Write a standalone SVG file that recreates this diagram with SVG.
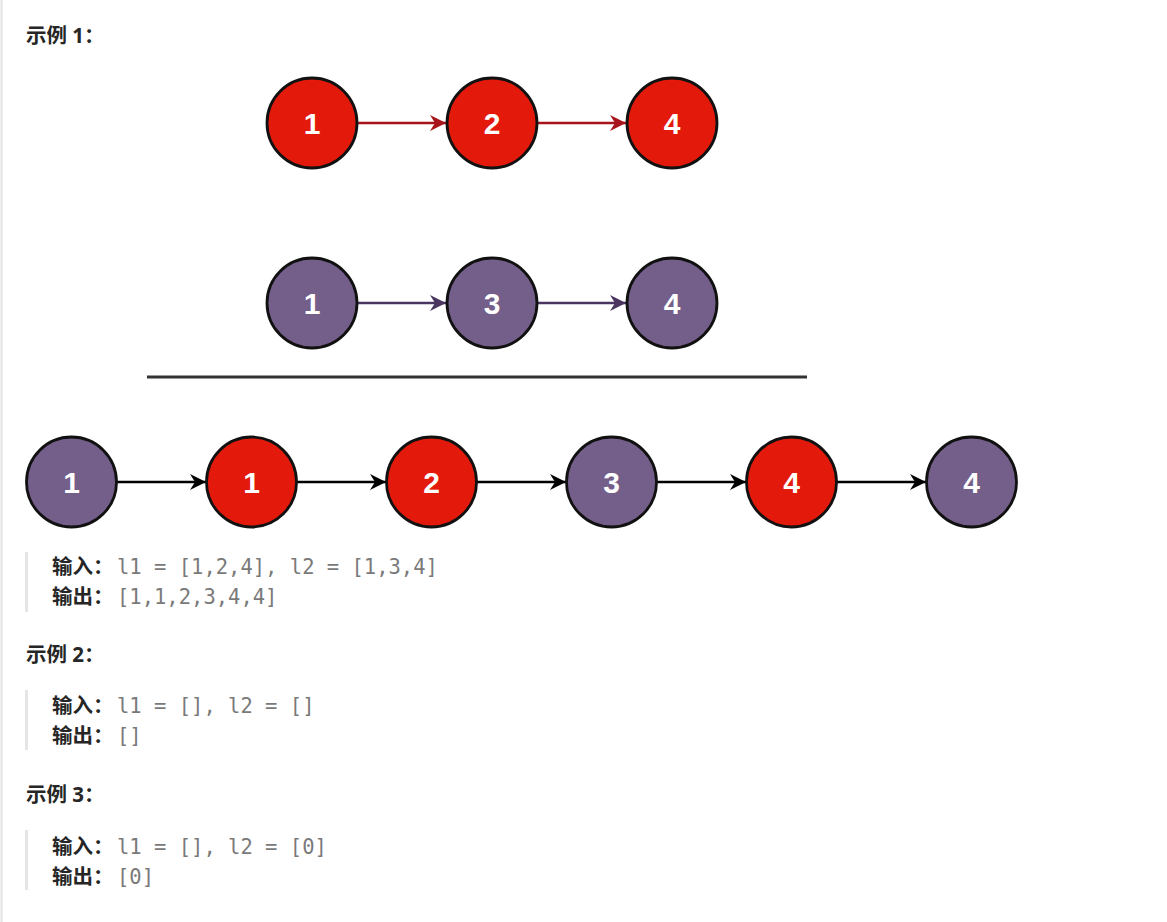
<svg xmlns="http://www.w3.org/2000/svg" width="1167" height="922" viewBox="0 0 1167 922">
<style>
.red{fill:#e31a0b;stroke:#111;stroke-width:2.8}
.pur{fill:#745e8a;stroke:#111;stroke-width:2.8}
.num{fill:#fff;font-family:"Liberation Sans",Arial,sans-serif;font-weight:bold;font-size:30px;text-anchor:middle}
.h{fill:#262626;font-family:"Noto Sans","Noto Sans CJK SC",sans-serif;font-weight:bold;font-size:20.5px}
.lab{fill:#262626;font-family:"Noto Sans","Noto Sans CJK SC",sans-serif;font-weight:bold;font-size:20.5px}
.code{fill:#7a7a7a;font-family:"DejaVu Sans Mono","Liberation Mono",monospace;font-size:20.5px}
.bar{fill:#e5e5e5}
.cr{stroke:#a8141b;stroke-width:2.3;fill:none}
.cp{stroke:#4a3560;stroke-width:2.3;fill:none}
.cb{stroke:#000;stroke-width:2.3;fill:none}
</style>
<defs>
<marker id="ar" markerUnits="userSpaceOnUse" markerWidth="18" markerHeight="16" refX="16" refY="8" orient="auto"><path d="M0,0 L16,8 L0,16 L5,8 Z" fill="#a8141b"/></marker>
<marker id="ap" markerUnits="userSpaceOnUse" markerWidth="18" markerHeight="16" refX="16" refY="8" orient="auto"><path d="M0,0 L16,8 L0,16 L5,8 Z" fill="#4a3560"/></marker>
<marker id="ab" markerUnits="userSpaceOnUse" markerWidth="18" markerHeight="16" refX="16" refY="8" orient="auto"><path d="M0,0 L16,8 L0,16 L5,8 Z" fill="#000"/></marker>
</defs>
<rect width="1167" height="922" fill="#fff"/>
<line x1="1.5" y1="0" x2="1.5" y2="922" stroke="#e3e3e3" stroke-width="2"/>

<g id="heading1"><text class="h" x="26" y="43">示例 1：</text></g>

<g id="connectors">
<line class="cr" x1="358" y1="123" x2="446" y2="123" marker-end="url(#ar)"/>
<line class="cr" x1="538" y1="123" x2="626" y2="123" marker-end="url(#ar)"/>
<line class="cp" x1="358" y1="303" x2="446" y2="303" marker-end="url(#ap)"/>
<line class="cp" x1="538" y1="303" x2="626" y2="303" marker-end="url(#ap)"/>
<line class="cb" x1="117" y1="482" x2="206" y2="482" marker-end="url(#ab)"/>
<line class="cb" x1="297" y1="482" x2="386" y2="482" marker-end="url(#ab)"/>
<line class="cb" x1="477" y1="482" x2="566" y2="482" marker-end="url(#ab)"/>
<line class="cb" x1="657" y1="482" x2="746" y2="482" marker-end="url(#ab)"/>
<line class="cb" x1="837" y1="482" x2="926" y2="482" marker-end="url(#ab)"/>
</g>

<g id="l1n1"><circle class="red" cx="312" cy="123" r="45"/><text class="num" x="312" y="134">1</text></g>
<g id="l1n2"><circle class="red" cx="492" cy="123" r="45"/><text class="num" x="492" y="134">2</text></g>
<g id="l1n3"><circle class="red" cx="672" cy="123" r="45"/><text class="num" x="672" y="134">4</text></g>

<g id="l2n1"><circle class="pur" cx="312" cy="303" r="45"/><text class="num" x="312" y="314">1</text></g>
<g id="l2n2"><circle class="pur" cx="492" cy="303" r="45"/><text class="num" x="492" y="314">3</text></g>
<g id="l2n3"><circle class="pur" cx="672" cy="303" r="45"/><text class="num" x="672" y="314">4</text></g>

<g id="divider"><line x1="147" y1="377" x2="807" y2="377" stroke="#333" stroke-width="3"/></g>

<g id="m1"><circle class="pur" cx="71.5" cy="482" r="45"/><text class="num" x="71.5" y="493">1</text></g>
<g id="m2"><circle class="red" cx="251.5" cy="482" r="45"/><text class="num" x="251.5" y="493">1</text></g>
<g id="m3"><circle class="red" cx="431.5" cy="482" r="45"/><text class="num" x="431.5" y="493">2</text></g>
<g id="m4"><circle class="pur" cx="611.5" cy="482" r="45"/><text class="num" x="611.5" y="493">3</text></g>
<g id="m5"><circle class="red" cx="791.5" cy="482" r="45"/><text class="num" x="791.5" y="493">4</text></g>
<g id="m6"><circle class="pur" cx="971.5" cy="482" r="45"/><text class="num" x="971.5" y="493">4</text></g>

<g id="example1">
<rect class="bar" x="25" y="552" width="3" height="60"/>
<text class="lab" x="52" y="574">输入：</text><text class="code" x="117" y="574">l1 = [1,2,4], l2 = [1,3,4]</text>
<text class="lab" x="52" y="604">输出：</text><text class="code" x="117" y="604">[1,1,2,3,4,4]</text>
</g>

<g id="example2">
<text class="h" x="26" y="662">示例 2：</text>
<rect class="bar" x="25" y="690" width="3" height="60"/>
<text class="lab" x="52" y="713">输入：</text><text class="code" x="117" y="713">l1 = [], l2 = []</text>
<text class="lab" x="52" y="743">输出：</text><text class="code" x="117" y="743">[]</text>
</g>

<g id="example3">
<text class="h" x="26" y="802">示例 3：</text>
<rect class="bar" x="25" y="830" width="3" height="60"/>
<text class="lab" x="52" y="854">输入：</text><text class="code" x="117" y="854">l1 = [], l2 = [0]</text>
<text class="lab" x="52" y="884">输出：</text><text class="code" x="117" y="884">[0]</text>
</g>
</svg>
